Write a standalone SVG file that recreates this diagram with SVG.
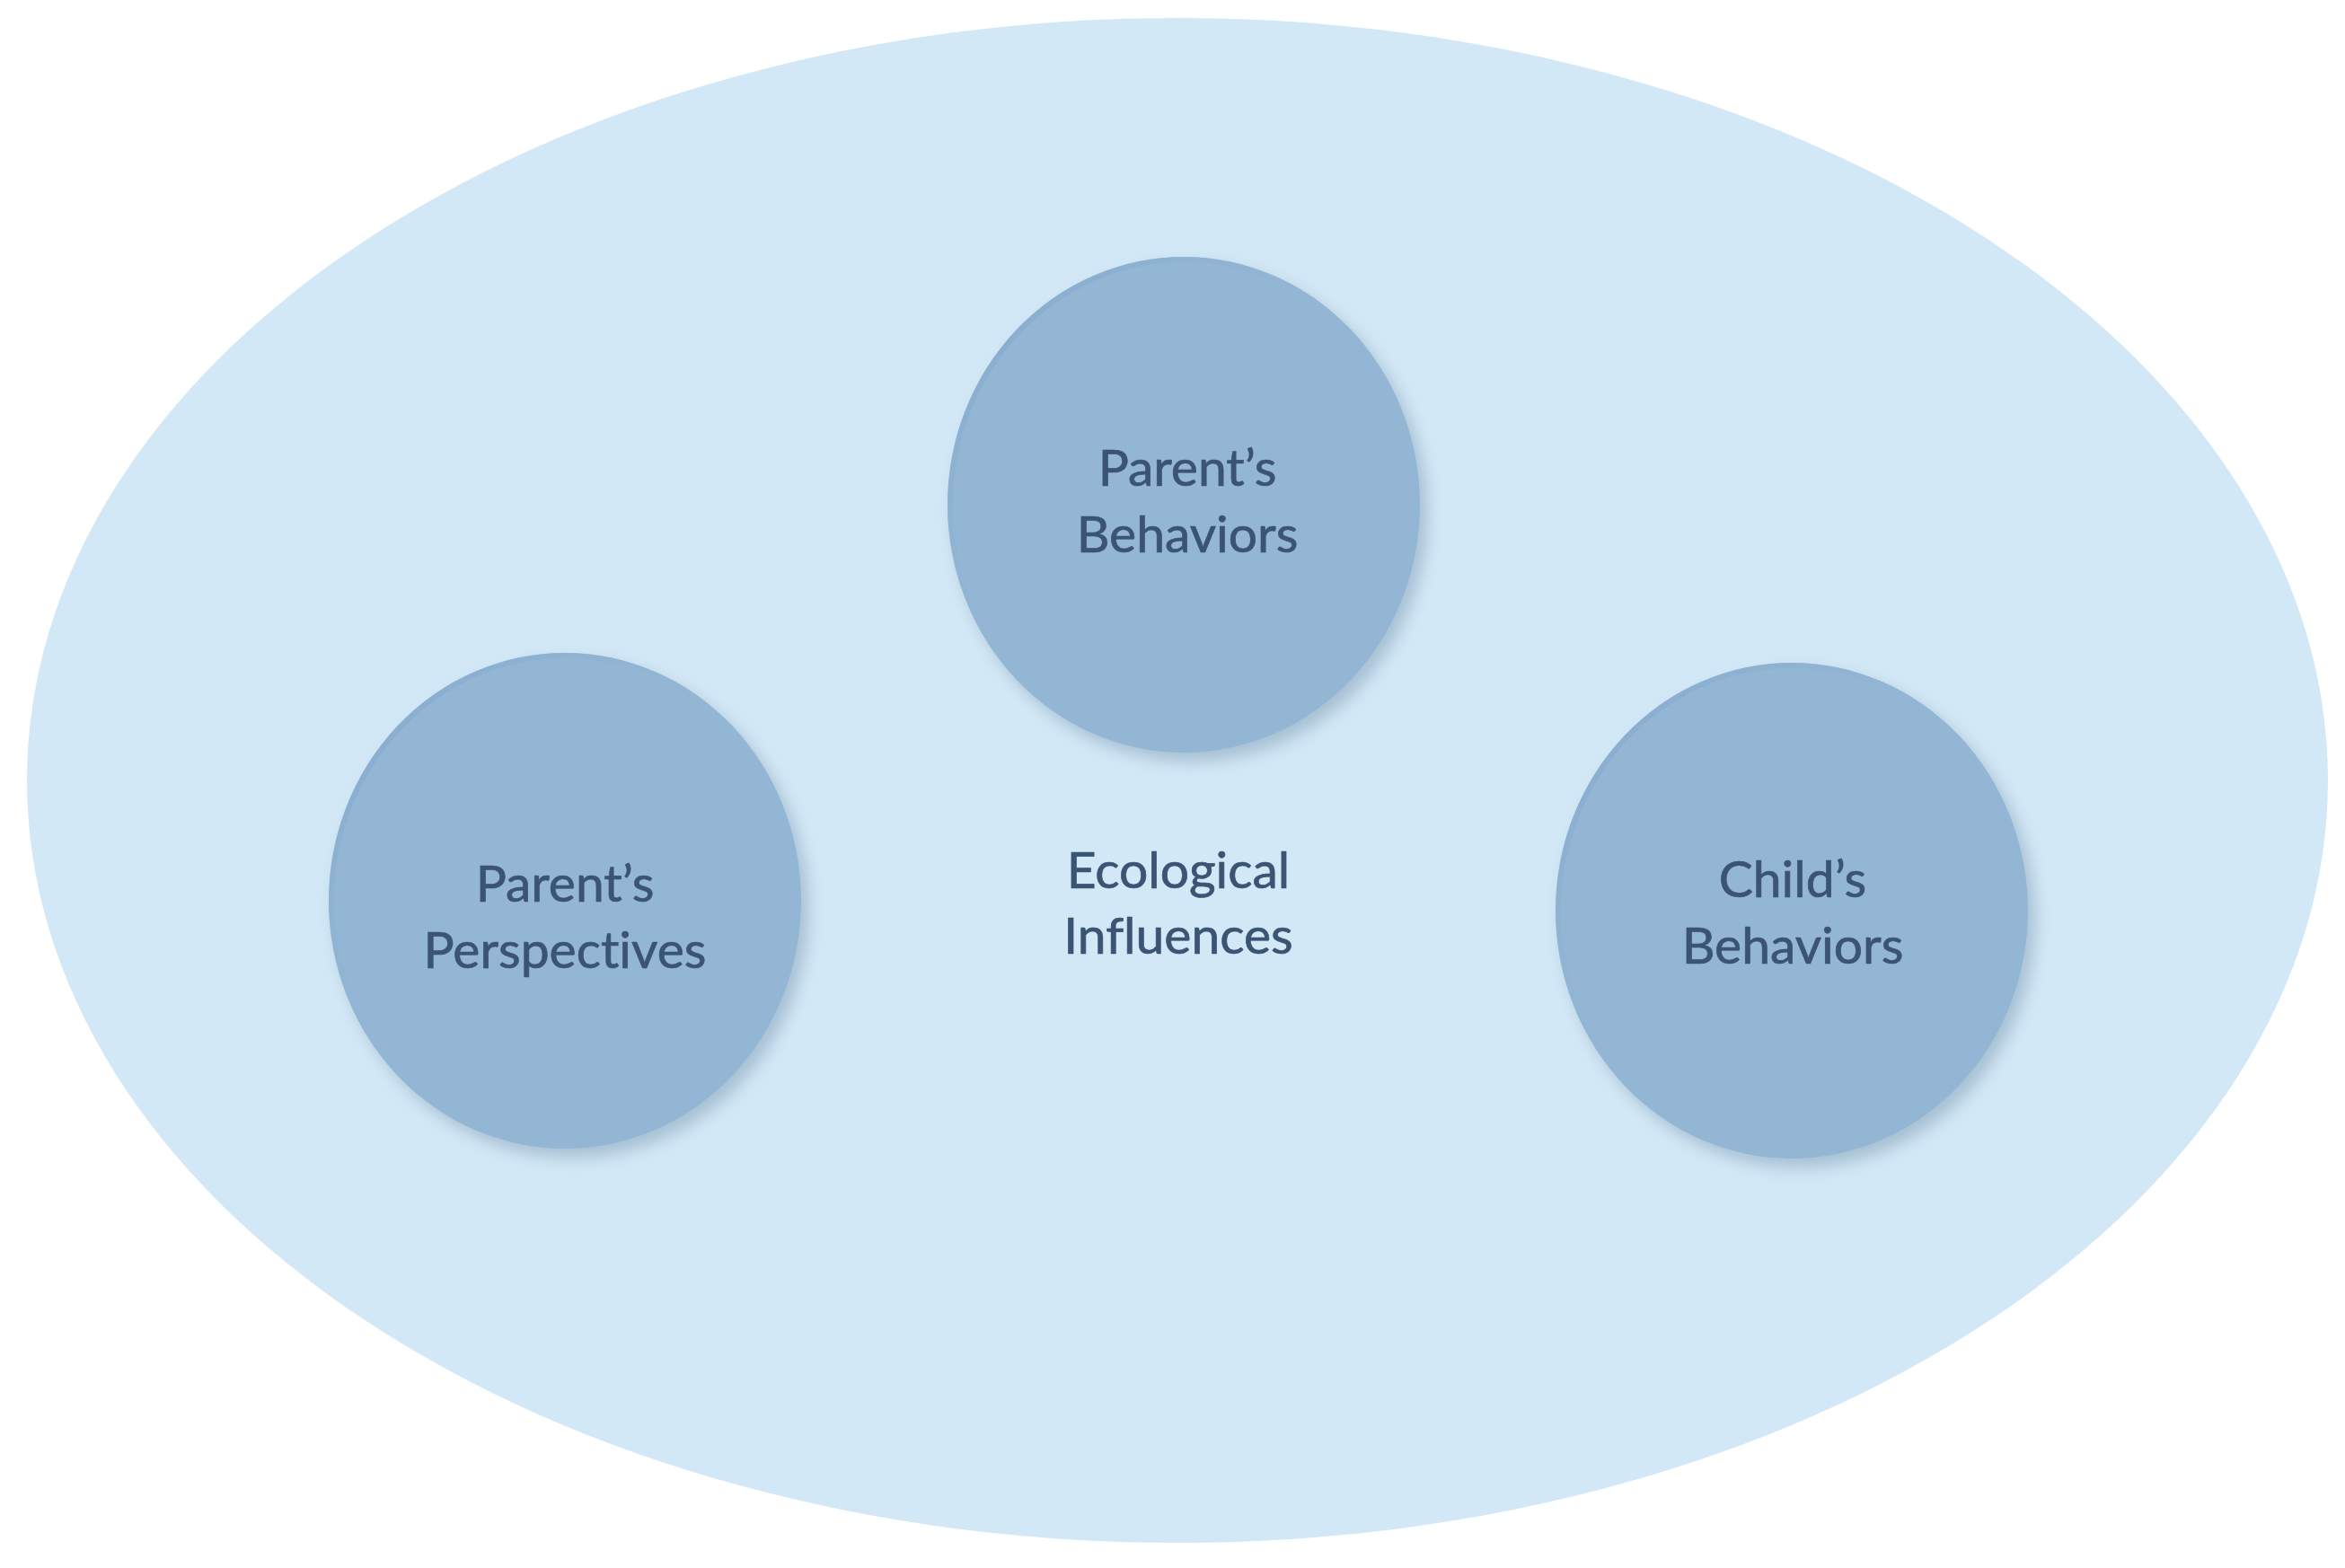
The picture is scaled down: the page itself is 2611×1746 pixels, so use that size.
<svg xmlns="http://www.w3.org/2000/svg" width="2611" height="1746" viewBox="0 0 2611 1746">
  <defs>
    <filter id="shadow" x="-20%" y="-20%" width="150%" height="150%">
      <feDropShadow dx="8" dy="10" stdDeviation="9" flood-color="#6f8ea8" flood-opacity="0.45"/>
    </filter>
    <linearGradient id="rim" x1="0" y1="0" x2="1" y2="1">
      <stop offset="0" stop-color="#7fa6cb" stop-opacity="0.9"/>
      <stop offset="0.5" stop-color="#93b6d4" stop-opacity="0"/>
    </linearGradient>
  </defs>
  <style>
    .outer { fill: #d3e8f6; }
    .node { fill: #93b6d4; filter: url(#shadow); }
    .rim { fill: none; stroke: url(#rim); stroke-width: 6; }
    .label { font-family: Lato, "Liberation Sans", sans-serif; font-size: 57px; fill: #3b5473; stroke: #3b5473; stroke-width: 0.7; text-anchor: middle; font-variant-ligatures: none; font-feature-settings: "liga" 0, "dlig" 0; }
  </style>
  <rect width="2611" height="1746" fill="#ffffff"/>
  <g id="ecological-influences">
    <ellipse class="outer" cx="1311" cy="869" rx="1281" ry="849"/>
    <text class="label" x="1312" y="989">Ecological</text>
    <text class="label" x="1312" y="1062">Influences</text>
  </g>
  <g id="parents-behaviors">
    <ellipse class="node" cx="1318" cy="562" rx="263" ry="276"/>
    <ellipse class="rim" cx="1318" cy="562" rx="260" ry="273"/>
    <text class="label" x="1322" y="541">Parent’s</text>
    <text class="label" x="1322" y="615">Behaviors</text>
  </g>
  <g id="parents-perspectives">
    <ellipse class="node" cx="629" cy="1003" rx="263" ry="276"/>
    <ellipse class="rim" cx="629" cy="1003" rx="260" ry="273"/>
    <text class="label" x="629" y="1004">Parent’s</text>
    <text class="label" x="629" y="1078">Perspectives</text>
  </g>
  <g id="childs-behaviors">
    <ellipse class="node" cx="1995" cy="1014" rx="263" ry="276"/>
    <ellipse class="rim" cx="1995" cy="1014" rx="260" ry="273"/>
    <text class="label" x="1996" y="999">Child’s</text>
    <text class="label" x="1996" y="1073">Behaviors</text>
  </g>
  <g id="connectors"></g>
</svg>
